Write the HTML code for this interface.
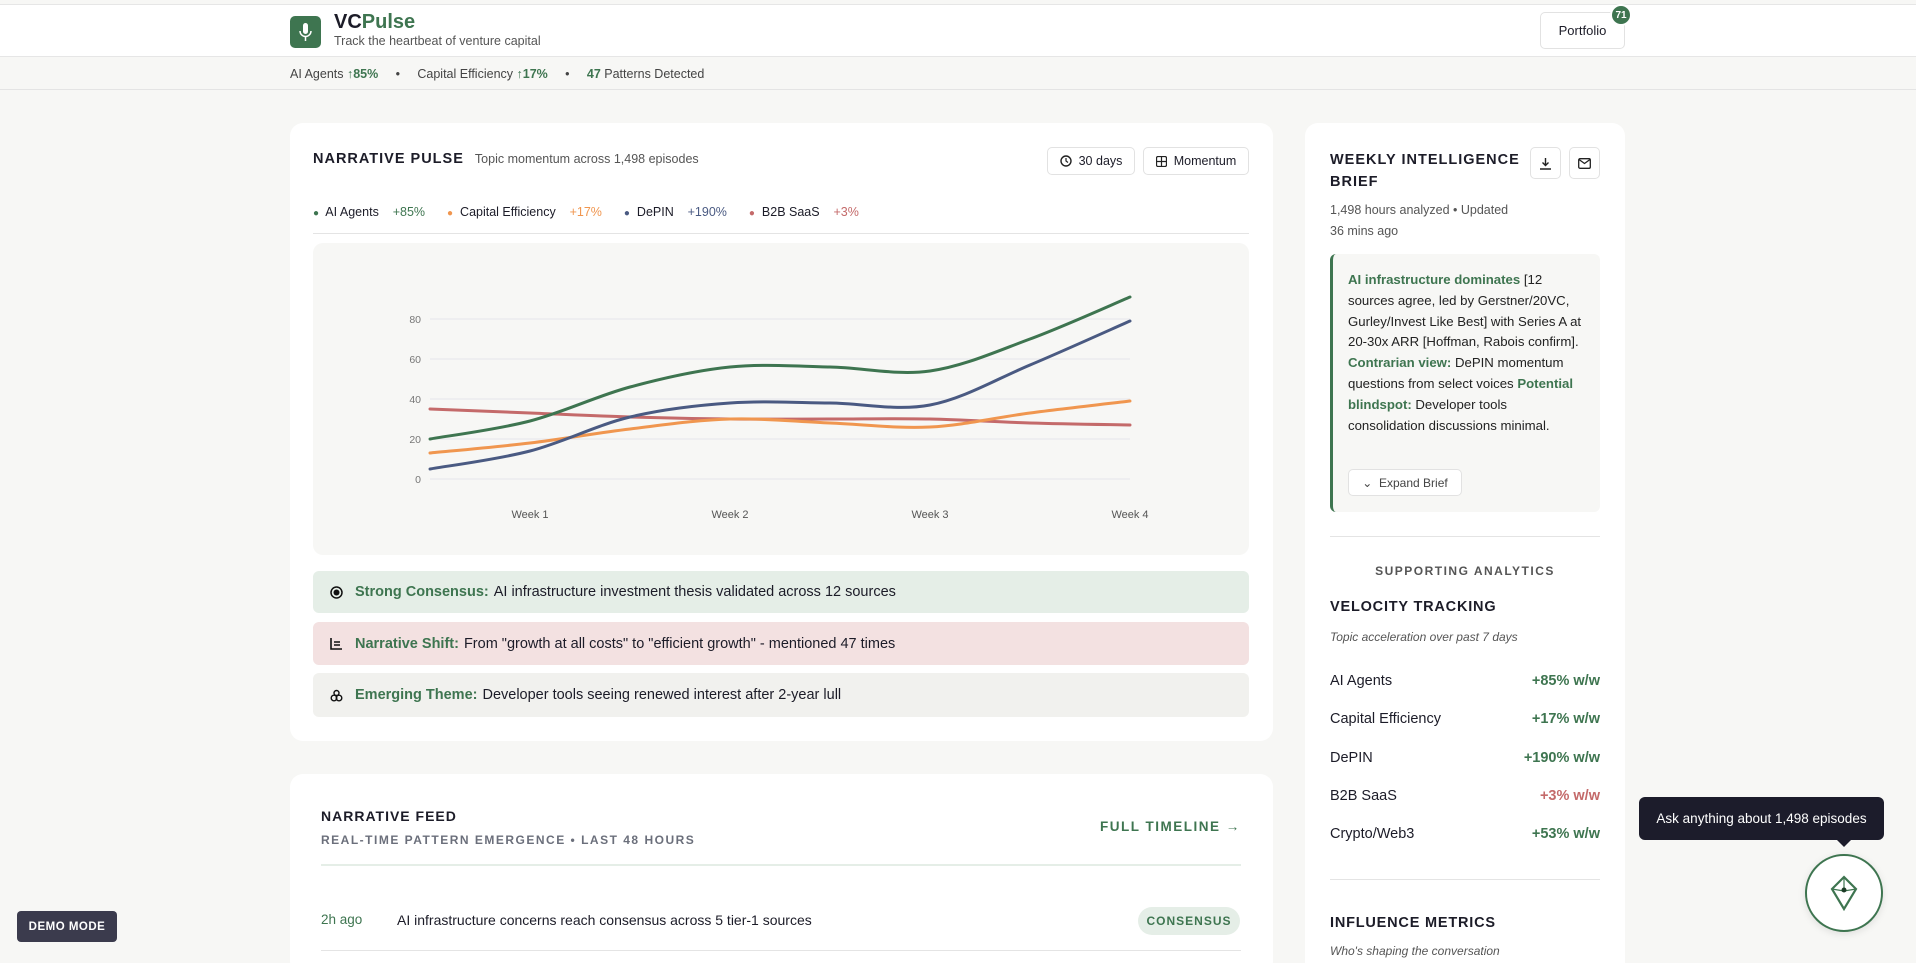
<!DOCTYPE html>
<html><head><meta charset="utf-8">
<style>
*{box-sizing:border-box;margin:0;padding:0}
html{width:1916px;height:963px;overflow:hidden}
body{width:1916px;height:963px;overflow:hidden;background:#f7f7f5;font-family:"Liberation Sans",Arial,sans-serif;color:#1c1c28;position:relative}
.abs{position:absolute}
.card{position:absolute;background:#fff;border-radius:13px}
.g{color:#3e7550}
.btn{position:absolute;border:1px solid #e2e2e2;border-radius:5px;background:#fff;font-size:12.5px;display:flex;align-items:center;justify-content:center;gap:7px}
.ins{position:absolute;left:313px;width:936px;border-radius:6px;font-size:14.5px;display:flex;align-items:center;padding-left:17px}
.ins b{color:#3e7550;font-weight:bold;margin:0 5px 0 12px}
.vrow{position:absolute;left:1330px;width:270px;font-size:14.5px;display:flex;justify-content:space-between}
.vrow span:last-child{font-weight:bold;color:#3e7550}
</style></head><body>
<div class="abs" style="left:0;top:4px;width:1916px;height:53px;background:#fff;border-top:1px solid #e6e6e6;border-bottom:1px solid #e6e6e6"></div>
<div class="abs" style="left:290px;top:16px;width:31px;height:32px;background:#3e7550;border-radius:5px">
<svg width="31" height="32"><rect x="13" y="7" width="5" height="11" rx="2.5" fill="#fff"/><path d="M10 15 a5.5 5.5 0 0 0 11 0" stroke="#fff" stroke-width="1.5" fill="none"/><line x1="15.5" y1="21" x2="15.5" y2="25" stroke="#fff" stroke-width="1.5"/></svg></div>
<div class="abs" style="left:334px;top:11px;font-size:20px;font-weight:bold">VC<span class="g">Pulse</span></div>
<div class="abs" style="left:334px;top:34px;font-size:12.5px;color:#555">Track the heartbeat of venture capital</div>
<div class="btn" style="left:1540px;top:12px;width:85px;height:37px;font-size:13px">Portfolio</div>
<div class="abs" style="left:1610px;top:4px;width:22px;height:22px;border-radius:11px;background:#3e7550;color:#fff;font-size:10px;font-weight:bold;display:flex;align-items:center;justify-content:center;border:2px solid #fff">71</div>
<div class="abs" style="left:0;top:57px;width:1916px;height:33px;border-bottom:1px solid #e4e4e4"></div>
<div class="abs" style="left:290px;top:67px;font-size:12.5px;color:#444">AI Agents <b class="g">↑85%</b> &nbsp;&nbsp;&nbsp;&nbsp;•&nbsp;&nbsp;&nbsp;&nbsp; Capital Efficiency <b class="g">↑17%</b> &nbsp;&nbsp;&nbsp;&nbsp;•&nbsp;&nbsp;&nbsp;&nbsp; <b class="g">47</b> Patterns Detected</div>

<div class="card" style="left:290px;top:123px;width:983px;height:618px"></div>
<div class="abs" style="left:313px;top:151px;font-size:14.5px;font-weight:bold;letter-spacing:1px">NARRATIVE PULSE <span style="font-weight:normal;letter-spacing:0;font-size:12.5px;color:#555;margin-left:6px">Topic momentum across 1,498 episodes</span></div>
<div class="btn" style="left:1047px;top:147px;width:88px;height:28px"><svg width="12" height="12"><circle cx="6" cy="6" r="5" fill="none" stroke="#222" stroke-width="1.4"/><path d="M6 3v3l2 1.5" stroke="#222" stroke-width="1.2" fill="none"/></svg>30 days</div>
<div class="btn" style="left:1143px;top:147px;width:106px;height:28px"><svg width="11" height="11"><rect x="0.5" y="0.5" width="10" height="10" rx="1.5" fill="none" stroke="#222" stroke-width="1.3"/><path d="M5.5 1v9M1 5.5h9" stroke="#222" stroke-width="1.2"/></svg>Momentum</div>
<div class="abs" style="left:313px;top:205px;font-size:12.5px;display:flex;gap:22px">
<span><span style="color:#3e7550;font-size:10px">●</span>&nbsp; AI Agents &nbsp;&nbsp;&nbsp;<b style="color:#3e7550;font-weight:normal">+85%</b></span>
<span><span style="color:#f0964f;font-size:10px">●</span>&nbsp; Capital Efficiency &nbsp;&nbsp;&nbsp;<b style="color:#f0964f;font-weight:normal">+17%</b></span>
<span><span style="color:#4a5a82;font-size:10px">●</span>&nbsp; DePIN &nbsp;&nbsp;&nbsp;<b style="color:#4a5a82;font-weight:normal">+190%</b></span>
<span><span style="color:#c46a6a;font-size:10px">●</span>&nbsp; B2B SaaS &nbsp;&nbsp;&nbsp;<b style="color:#c46a6a;font-weight:normal">+3%</b></span></div>
<div class="abs" style="left:313px;top:233px;width:936px;height:1px;background:#e4e4e4"></div>
<div class="abs" style="left:313px;top:243px;width:936px;height:312px;background:#f7f7f5;border-radius:10px"></div>
<svg class="abs" id="chart" style="left:0;top:0" width="1916" height="963"></svg>

<div class="ins" style="top:571px;height:42px;background:#e5eee7"><svg width="13" height="13"><circle cx="6.5" cy="6.5" r="5.5" fill="none" stroke="#111" stroke-width="1.5"/><circle cx="6.5" cy="6.5" r="3" fill="#111"/></svg><b>Strong Consensus:</b>AI infrastructure investment thesis validated across 12 sources</div>
<div class="ins" style="top:622px;height:43px;background:#f3e1e1"><svg width="13" height="13"><path d="M1 1v11h11M4 5h6M4 8h6" stroke="#111" stroke-width="1.6" fill="none"/></svg><b>Narrative Shift:</b>From "growth at all costs" to "efficient growth" - mentioned 47 times</div>
<div class="ins" style="top:673px;height:44px;background:#f1f1ee"><svg width="13" height="13"><circle cx="4" cy="9" r="2.8" fill="none" stroke="#111" stroke-width="1.4"/><circle cx="9" cy="9" r="2.8" fill="none" stroke="#111" stroke-width="1.4"/><circle cx="6.5" cy="4" r="2.5" fill="none" stroke="#111" stroke-width="1.4"/></svg><b>Emerging Theme:</b>Developer tools seeing renewed interest after 2-year lull</div>

<div class="card" style="left:290px;top:774px;width:983px;height:200px"></div>
<div class="abs" style="left:321px;top:808px;font-size:14px;font-weight:bold;letter-spacing:1px">NARRATIVE FEED</div>
<div class="abs" style="left:321px;top:833px;font-size:12px;font-weight:bold;letter-spacing:1.5px;color:#6b6f7b">REAL-TIME PATTERN EMERGENCE • LAST 48 HOURS</div>
<div class="abs" style="left:1100px;top:819px;font-size:13.5px;font-weight:bold;letter-spacing:1.5px;color:#3e7550">FULL TIMELINE →</div>
<div class="abs" style="left:321px;top:864px;width:920px;height:2px;background:#e5eee7"></div>
<div class="abs" style="left:321px;top:912px;font-size:13.5px;color:#3e7550">2h ago</div>
<div class="abs" style="left:397px;top:912px;font-size:14px">AI infrastructure concerns reach consensus across 5 tier-1 sources</div>
<div class="abs" style="left:1138px;top:907px;width:102px;height:28px;border-radius:14px;background:#e5eee7;color:#3e7550;font-size:12px;font-weight:bold;letter-spacing:1px;display:flex;align-items:center;justify-content:center">CONSENSUS</div>
<div class="abs" style="left:321px;top:950px;width:920px;height:1px;background:#e4e4e4"></div>

<div class="card" style="left:1305px;top:123px;width:320px;height:860px"></div>
<div class="abs" style="left:1330px;top:149px;font-size:14.5px;font-weight:bold;letter-spacing:1px;line-height:22px;width:190px">WEEKLY INTELLIGENCE BRIEF</div>
<div class="btn" style="left:1530px;top:147px;width:31px;height:32px"><svg width="13" height="13"><path d="M6.5 1v7M3.5 5.5l3 3 3-3M1 12h11" stroke="#222" stroke-width="1.4" fill="none"/></svg></div>
<div class="btn" style="left:1569px;top:147px;width:31px;height:32px"><svg width="13" height="11"><rect x="0.7" y="0.7" width="11.6" height="9.6" rx="1.3" fill="none" stroke="#222" stroke-width="1.3"/><path d="M1 1.5l5.5 4 5.5-4" stroke="#222" stroke-width="1.3" fill="none"/></svg></div>
<div class="abs" style="left:1330px;top:200px;font-size:12.5px;color:#555;line-height:21px;width:180px">1,498 hours analyzed • Updated 36 mins ago</div>
<div class="abs" style="left:1330px;top:254px;width:270px;height:258px;background:#f7f7f5;border-left:3px solid #3e7550;border-radius:6px"></div>
<div class="abs" style="left:1348px;top:270px;width:236px;font-size:13.2px;line-height:20.8px;color:#222"><b class="g">AI infrastructure dominates</b> [12 sources agree, led by Gerstner/20VC, Gurley/Invest Like Best] with Series A at 20-30x ARR [Hoffman, Rabois confirm]. <b class="g">Contrarian view:</b> DePIN momentum questions from select voices <b class="g">Potential blindspot:</b> Developer tools consolidation discussions minimal.</div>
<div class="btn" style="left:1348px;top:469px;width:114px;height:27px;font-size:12px;color:#444">⌄&nbsp; Expand Brief</div>
<div class="abs" style="left:1330px;top:536px;width:270px;height:1px;background:#e4e4e4"></div>
<div class="abs" style="left:1330px;top:564px;width:270px;text-align:center;font-size:12px;font-weight:bold;letter-spacing:1.5px;color:#555">SUPPORTING ANALYTICS</div>
<div class="abs" style="left:1330px;top:599px;font-size:14.5px;font-weight:bold;letter-spacing:0.8px">VELOCITY TRACKING</div>
<div class="abs" style="left:1330px;top:630px;font-size:12px;font-style:italic;color:#555">Topic acceleration over past 7 days</div>
<div class="vrow" style="top:673px"><span>AI Agents</span><span>+85% w/w</span></div>
<div class="vrow" style="top:711px"><span>Capital Efficiency</span><span>+17% w/w</span></div>
<div class="vrow" style="top:750px"><span>DePIN</span><span>+190% w/w</span></div>
<div class="vrow" style="top:788px"><span>B2B SaaS</span><span style="color:#c46a6a!important">+3% w/w</span></div>
<div class="vrow" style="top:826px"><span>Crypto/Web3</span><span>+53% w/w</span></div>
<div class="abs" style="left:1330px;top:879px;width:270px;height:1px;background:#e4e4e4"></div>
<div class="abs" style="left:1330px;top:915px;font-size:14.5px;font-weight:bold;letter-spacing:0.8px">INFLUENCE METRICS</div>
<div class="abs" style="left:1330px;top:944px;font-size:12px;font-style:italic;color:#555">Who's shaping the conversation</div>

<div class="abs" style="left:1639px;top:797px;width:245px;height:43px;background:#1c1c2b;border-radius:6px;color:#fff;font-size:13.5px;display:flex;align-items:center;justify-content:center">Ask anything about 1,498 episodes</div>
<div class="abs" style="left:1837px;top:840px;width:0;height:0;border-left:7px solid transparent;border-right:7px solid transparent;border-top:7px solid #1c1c2b"></div>
<div class="abs" style="left:1805px;top:854px;width:78px;height:78px;border-radius:39px;background:#fff;border:2px solid #3e7550;box-shadow:0 2px 8px rgba(0,0,0,.1);display:flex;align-items:center;justify-content:center"><svg width="30" height="36"><path d="M15 2L27 14L15 34L3 14Z" fill="none" stroke="#3e7550" stroke-width="2.2"/><path d="M3 14L15 16L27 14M15 2V16" stroke="#3e7550" stroke-width="1.2" fill="none"/><circle cx="15" cy="15" r="2.5" fill="#1c3a26"/></svg></div>
<div class="abs" style="left:17px;top:911px;width:100px;height:31px;background:#3b3b4d;border-radius:4px;color:#fff;font-size:11.5px;font-weight:bold;letter-spacing:.5px;display:flex;align-items:center;justify-content:center">DEMO MODE</div>

<script>
const categories=["","Week 1","","Week 2","","Week 3","","Week 4"];
const aiAgents=[20,29,46,56,56,54,70,91];
const capitalEfficiency=[13,18,25,30,28,26,33,39];
const depin=[5,14,31,38,38,37,57,79];
const b2bSaas=[35,33,31,30,30,30,28,27];
const yTicks=[0,20,40,60,80];
const svg=document.getElementById('chart');
const NS='http://www.w3.org/2000/svg';
const X0=430,X1=1130,Y0=479,Y80=319;
const x=i=>X0+(X1-X0)*i/(categories.length-1);
const y=v=>Y0-(Y0-Y80)*v/80;
function el(t,a){const e=document.createElementNS(NS,t);for(const k in a)e.setAttribute(k,a[k]);svg.appendChild(e);return e;}
yTicks.forEach(t=>{
 const l=el('line',{x1:X0,x2:X1,y1:y(t),y2:y(t),stroke:'#ebebee','stroke-width':1.5});
 
 
 const tx=el('text',{x:421,y:y(t)+4,'text-anchor':'end','font-size':10.5,fill:'#777','font-family':'Liberation Sans, sans-serif'});
 tx.textContent=t;
 
 
});
categories.forEach((c,i)=>{if(!c)return;
 const tx=el('text',{x:x(i),y:518,'text-anchor':'middle','font-size':11,fill:'#555','font-family':'Liberation Sans, sans-serif'});
 tx.textContent=c;
 
 
});
function path(vals){const p=vals.map((v,i)=>[x(i),y(v)]);let d='M'+p[0][0]+','+p[0][1];
 for(let i=0;i<p.length-1;i++){const a=p[i-1]||p[i],b=p[i],c=p[i+1],e=p[i+2]||c;
 d+=' C'+(b[0]+(c[0]-a[0])/6)+','+(b[1]+(c[1]-a[1])/6)+' '+(c[0]-(e[0]-b[0])/6)+','+(c[1]-(e[1]-b[1])/6)+' '+c[0]+','+c[1];}return d;}
[[b2bSaas,'#c46a6a','line-b2b-saas'],[capitalEfficiency,'#f0964f','line-capital-efficiency'],[depin,'#4a5a82','line-depin'],[aiAgents,'#3e7550','line-ai-agents']].forEach(s=>{
 const p=el('path',{d:path(s[0]),fill:'none',stroke:s[1],'stroke-width':3,'stroke-linecap':'round'});
 
 
});
</script>
</body></html>
